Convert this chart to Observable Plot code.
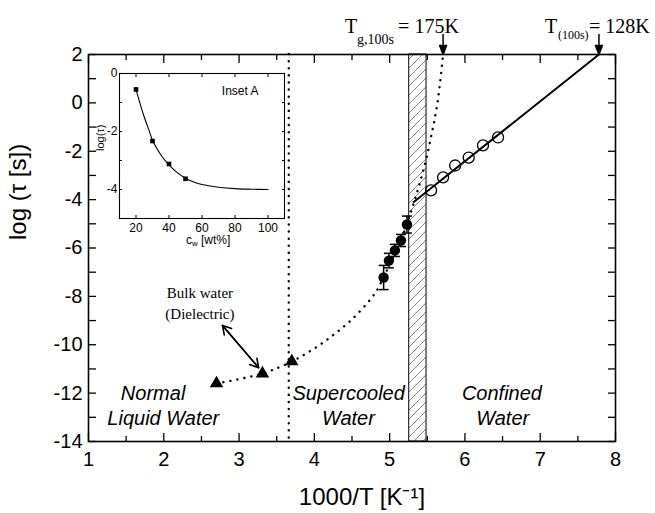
<!DOCTYPE html>
<html><head><meta charset="utf-8">
<script src="https://cdn.jsdelivr.net/npm/d3@7"></script>
<script src="https://cdn.jsdelivr.net/npm/@observablehq/plot@0.6"></script>
<style>
body{margin:0;background:#fff;}
#wrap{position:relative;width:655px;height:513px;}
#inset{position:absolute;left:80px;top:60px;}
</style></head><body><div id="wrap"><div id="main"></div><div id="inset"></div></div>
<script>
// ---------- data ----------
const xDomain = [1, 8];
const yDomain = [-14, 2];
const xMajor = [1, 2, 3, 4, 5, 6, 7, 8];
const xMinor = [1.5, 2.5, 3.5, 4.5, 5.5, 6.5, 7.5];
const yLabels = [2, 0, -2, -4, -6, -8, -10, -12, -14];
const yTicks = [2, 1, 0, -1, -2, -3, -4, -5, -6, -7, -8, -9, -10, -11, -12, -13, -14];

// bulk water (dielectric) triangles
const bulkX = [2.70, 3.31, 3.70];
const bulkY = [-11.6, -11.19, -10.69];
// supercooled filled circles with error bars
const supX = [4.92, 4.99, 5.07, 5.15, 5.23];
const supY = [-7.22, -6.52, -6.10, -5.69, -5.03];
const supErr = [0.5, 0.3, 0.25, 0.25, 0.35];
// confined water open circles
const confX = [5.55, 5.71, 5.87, 6.05, 6.24, 6.44];
const confY = [-3.62, -3.08, -2.59, -2.26, -1.76, -1.43];
// dotted VFT curve
const vftX = [2.70, 3.31, 3.70, 4.00, 4.25, 4.50, 4.75, 4.85, 4.92, 5.00, 5.08, 5.16, 5.23, 5.30, 5.36, 5.42, 5.48, 5.53, 5.58, 5.63, 5.67, 5.71];
const vftY = [-11.6, -11.19, -10.69, -10.15, -9.6, -8.95, -8.1, -7.65, -7.2, -6.7, -6.15, -5.6, -5.0, -4.35, -3.75, -3.1, -2.4, -1.7, -0.95, -0.1, 0.85, 2.0];
// Arrhenius solid line
const arrX = [5.32, 7.78];
const arrY = [-4.1, 2.0];
// melting line and hatched band
const meltX = [3.66];
const bandStart = [5.26];
const bandEnd = [5.49];
// temperature arrows at top
const tempX = [5.71, 7.78];
// bulk-water annotation arrow
const noteFromX = [2.78], noteFromY = [-9.2];
const noteToX = [3.26], noteToY = [-10.95];
const bulkNote = ["Bulk water", "(Dielectric)"];
const bulkNoteX = [2.48, 2.48];
const bulkNoteY = [-8.05, -8.92];
// region labels
const regionText = ["Normal", "Liquid Water", "Supercooled", "Water", "Confined", "Water"];
const regionX = [1.43, 1.25, 3.71, 4.10, 5.96, 6.15];
const regionY = [-12.0, -13.05, -12.0, -13.05, -12.0, -13.05];

// inset A
const insetXDomain = [10, 110];
const insetYDomain = [-5, 0];
const insetXTicks = [20, 40, 60, 80, 100];
const insetYLabels = [0, -2, -4];
const insetYTicks = [0, -1, -2, -3, -4, -5];
const insetPtsX = [20, 30, 40, 50];
const insetPtsY = [-0.55, -2.33, -3.12, -3.63];
const insetCurveX = [20, 22, 25, 28, 30, 35, 40, 45, 50, 55, 60, 70, 80, 90, 100];
const insetCurveY = [-0.55, -0.95, -1.5, -1.98, -2.3, -2.8, -3.15, -3.42, -3.61, -3.74, -3.83, -3.92, -3.97, -3.99, -4.0];

// ---------- helpers ----------
const sans = "'Liberation Sans', Arial, Helvetica, sans-serif";
const serif = "'Liberation Serif', 'Times New Roman', serif";
const capSymbol = {draw(ctx, size) { const w = Math.sqrt(size / Math.PI); ctx.moveTo(-w, 0); ctx.lineTo(w, 0); }};
const headShape = {draw(ctx, l) {
  ctx.moveTo(0, 0); ctx.lineTo(0, -l);
  ctx.moveTo(0, -l); ctx.lineTo(-3.5, -l + 9); ctx.lineTo(3.5, -l + 9); ctx.closePath();
}};
function topText(xv, text, dx, dy, size) {
  return Plot.text([xv], {x: d => d, frameAnchor: "top", text: () => text, dx, dy, fontSize: size,
    textAnchor: "start", lineAnchor: "bottom", fontFamily: serif});
}
const dotted = {strokeDasharray: "0.1 7", strokeLinecap: "round", strokeWidth: 2.4, stroke: "#000"};

const hatchDefs = () => {
  const g = d3.create("svg:defs");
  const p = g.append("pattern").attr("id", "hatch").attr("patternUnits", "userSpaceOnUse")
    .attr("width", 9).attr("height", 9);
  p.append("path").attr("d", "M-1,1 l2,-2 M0,9 l9,-9 M8,10 l2,-2")
    .attr("stroke", "#777").attr("stroke-width", 0.9);
  return g.node();
};

const main = Plot.plot({
  width: 655, height: 513,
  marginLeft: 88, marginRight: 40, marginTop: 54, marginBottom: 72,
  x: {domain: xDomain},
  y: {domain: yDomain},
  style: {fontFamily: sans, background: "#fff", color: "#000", overflow: "visible"},
  marks: [
    hatchDefs,
    Plot.rect(bandStart, {x1: d => d, x2: (d, i) => bandEnd[i], fill: "url(#hatch)", stroke: "#000", strokeWidth: 1}),
    Plot.ruleX(meltX, {x: d => d, ...dotted}),
    Plot.line(vftX, {x: d => d, y: (d, i) => vftY[i], curve: "catmull-rom", ...dotted}),
    Plot.line(arrX, {x: d => d, y: (d, i) => arrY[i], stroke: "#000", strokeWidth: 2}),
    // error bars
    Plot.ruleX(supX, {x: d => d, y1: (d, i) => supY[i] - supErr[i], y2: (d, i) => supY[i] + supErr[i], stroke: "#000", strokeWidth: 1.5}),
    Plot.dot(supX, {x: d => d, y: (d, i) => supY[i] - supErr[i], symbol: capSymbol, r: 5, stroke: "#000", strokeWidth: 1.5}),
    Plot.dot(supX, {x: d => d, y: (d, i) => supY[i] + supErr[i], symbol: capSymbol, r: 5, stroke: "#000", strokeWidth: 1.5}),
    Plot.dot(supX, {x: d => d, y: (d, i) => supY[i], r: 5.2, fill: "#000"}),
    Plot.dot(bulkX, {x: d => d, y: (d, i) => bulkY[i], symbol: "triangle", r: 5, fill: "#000"}),
    Plot.dot(confX, {x: d => d, y: (d, i) => confY[i], r: 5.5, stroke: "#000", strokeWidth: 1.3, fill: "none"}),
    // annotation arrow (double headed)
    Plot.arrow(noteFromX, {x1: d => d, y1: (d, i) => noteFromY[i], x2: (d, i) => noteToX[i], y2: (d, i) => noteToY[i], stroke: "#000", strokeWidth: 1.6, headLength: 9}),
    Plot.arrow(noteFromX, {x1: (d, i) => noteToX[i], y1: (d, i) => noteToY[i], x2: d => d, y2: (d, i) => noteFromY[i], stroke: "#000", strokeWidth: 1.6, headLength: 9}),
    Plot.text(bulkNote, {x: (d, i) => bulkNoteX[i], y: (d, i) => bulkNoteY[i], text: d => d, fontFamily: serif, fontSize: 15, lineAnchor: "bottom"}),
    Plot.text(regionText, {x: (d, i) => regionX[i], y: (d, i) => regionY[i], text: d => d, textAnchor: "start", fontSize: 20, fontStyle: "italic"}),
    // top arrows + labels
    Plot.vector(tempX, {x: d => d, frameAnchor: "top", length: 20, rotate: 180, anchor: "end", shape: headShape, stroke: "#000", fill: "#000", strokeWidth: 1.5}),
    topText(tempX[0], "T", -98, -22, 20),
    topText(tempX[0], "g,100s", -86, -11, 14),
    topText(tempX[0], "= 175K", -45, -22, 20),
    topText(tempX[1], "T", -54, -22, 20),
    topText(tempX[1], "(100s)", -41, -16, 12),
    topText(tempX[1], "= 128K", -10, -22, 20),
    // axes
    Plot.axisX(xMajor, {anchor: "bottom", tickSize: 0, tickPadding: 10, fontSize: 20, tickFormat: d => String(d), label: null}),
    Plot.axisX(xMajor, {anchor: "bottom", tickSize: -8, tickFormat: () => "", label: null, strokeWidth: 1.3}),
    Plot.axisX(xMinor, {anchor: "bottom", tickSize: -5, tickFormat: () => "", label: null, strokeWidth: 1.3}),
    Plot.axisX(xMajor, {anchor: "top", tickSize: -8, tickFormat: () => "", label: null, strokeWidth: 1.3}),
    Plot.axisX(xMinor, {anchor: "top", tickSize: -5, tickFormat: () => "", label: null, strokeWidth: 1.3}),
    Plot.axisY(yLabels, {anchor: "left", tickSize: 0, tickPadding: 6, fontSize: 20, tickFormat: d => String(d), label: null}),
    Plot.axisY(yTicks, {anchor: "left", tickSize: -8, tickFormat: () => "", label: null, strokeWidth: 1.3}),
    Plot.axisY(yTicks, {anchor: "right", tickSize: -8, tickFormat: () => "", label: null, strokeWidth: 1.3}),
    Plot.text(["1000/T [K⁻¹]"], {frameAnchor: "bottom", text: d => d, dy: 56, dx: 10, fontSize: 24, lineAnchor: "middle"}),
    Plot.text(["log (τ [s])"], {frameAnchor: "left", text: d => d, rotate: -90, dx: -70, dy: -8, fontSize: 24, lineAnchor: "middle"}),
    Plot.frame({stroke: "#000", strokeWidth: 1.6})
  ]
});
document.getElementById("main").append(main);

const inset = Plot.plot({
  width: 210, height: 190,
  marginLeft: 39, marginRight: 6, marginTop: 13, marginBottom: 32,
  x: {domain: insetXDomain},
  y: {domain: insetYDomain},
  style: {fontFamily: sans, background: "transparent", color: "#000", overflow: "visible"},
  marks: [
    Plot.line(insetCurveX, {x: d => d, y: (d, i) => insetCurveY[i], curve: "catmull-rom", stroke: "#000", strokeWidth: 1.1}),
    Plot.dot(insetPtsX, {x: d => d, y: (d, i) => insetPtsY[i], symbol: "square", r: 2.6, fill: "#000"}),
    Plot.axisX(insetXTicks, {anchor: "bottom", tickSize: 0, tickPadding: 5, fontSize: 12, tickFormat: d => String(d), label: null}),
    Plot.axisX(insetXTicks, {anchor: "bottom", tickSize: -3, tickFormat: () => "", label: null}),
    Plot.axisX(insetXTicks, {anchor: "top", tickSize: -3, tickFormat: () => "", label: null}),
    Plot.axisY(insetYLabels, {anchor: "left", tickSize: 0, tickPadding: 2, fontSize: 12, tickFormat: d => String(d), label: null}),
    Plot.axisY(insetYTicks, {anchor: "left", tickSize: -3, tickFormat: () => "", label: null}),
    Plot.axisY(insetYTicks, {anchor: "right", tickSize: -3, tickFormat: () => "", label: null}),
    Plot.text(["Inset A"], {frameAnchor: "top-right", text: d => d, dx: -26, dy: 18, fontSize: 12, textAnchor: "end", lineAnchor: "middle"}),
    Plot.text(["log(τ)"], {frameAnchor: "left", text: d => d, rotate: -90, dx: -19, dy: 5, fontSize: 11, lineAnchor: "middle"}),
    Plot.text(["c"], {frameAnchor: "bottom", text: d => d, dx: -16, dy: 22, fontSize: 12, textAnchor: "start", lineAnchor: "middle"}),
    Plot.text(["w"], {frameAnchor: "bottom", text: d => d, dx: -10, dy: 25, fontSize: 8, textAnchor: "start", lineAnchor: "middle"}),
    Plot.text(["[wt%]"], {frameAnchor: "bottom", text: d => d, dx: -1, dy: 22, fontSize: 12, textAnchor: "start", lineAnchor: "middle"}),
    Plot.frame({stroke: "#000", strokeWidth: 1.1})
  ]
});
document.getElementById("inset").append(inset);
</script>
</body></html>
